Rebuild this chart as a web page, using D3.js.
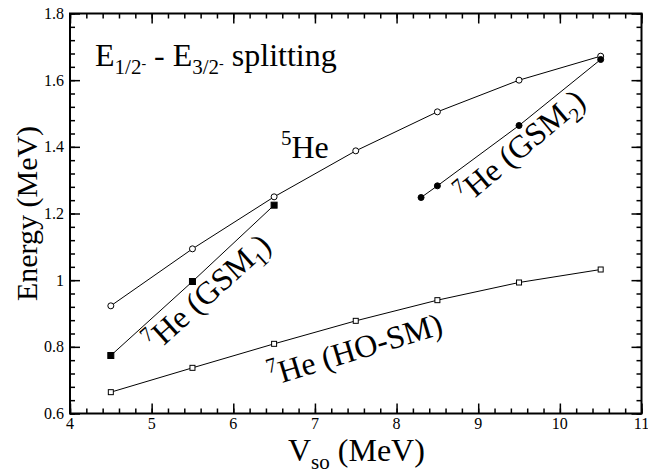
<!DOCTYPE html>
<html>
<head>
<meta charset="UTF-8">
<title>Spin-orbit splitting</title>
<script src="https://d3js.org/d3.v7.min.js"></script>
<style>
  body { margin: 0; background: #fff; }
  text { font-family: "Liberation Serif", "Times New Roman", serif; fill: #000; }
</style>
</head>
<body>
<div id="chart"></div>
<script type="text/javascript">

// data
let vso = [4.5, 5.5, 6.5, 7.5, 8.5, 9.5, 10.5];
let he5 = [0.923, 1.094, 1.25, 1.388, 1.505, 1.60, 1.672];
let hoSm = [0.664, 0.737, 0.809, 0.878, 0.94, 0.993, 1.032];
let gsm1X = [4.5, 5.5, 6.5];
let gsm1 = [0.774, 0.996, 1.225];
let gsm2X = [8.3, 8.5, 9.5, 10.5];
let gsm2 = [1.248, 1.283, 1.464, 1.662];

let xTicks = [4, 5, 6, 7, 8, 9, 10, 11];
let yTicks = [0.6, 0.8, 1.0, 1.2, 1.4, 1.6, 1.8];

let width = 648, height = 473;
let margin = {top: 13.5, right: 6.5, bottom: 59.5, left: 70};

let svg = d3.select("#chart")
            .append("svg")
            .attr("width", width)
            .attr("height", height)
            .attr("font-family", "'Liberation Serif', 'Times New Roman', serif");

let x = d3.scaleLinear().domain([4, 11]).range([margin.left, width - margin.right]);
let y = d3.scaleLinear().domain([0.6, 1.8]).range([height - margin.bottom, margin.top]);

let xMinor = d3.range(4, 11.001, 0.2);
let yMinor = d3.range(0.6, 1.8001, 0.04);

// inward ticks on all four sides
function ticks(g, axis, scale, vals, len) {
    g.call(axis(scale).tickValues(vals).tickSize(len).tickFormat(""))
     .call(s => s.select(".domain").remove())
     .selectAll("line").attr("stroke", "#000").attr("stroke-width", 1.5);
}

let yBot = height - margin.bottom, yTop = margin.top;
let xLeft = margin.left, xRight = width - margin.right;

ticks(svg.append("g").attr("transform", `translate(0,${yBot})`), d3.axisTop, x, xMinor, 5);
ticks(svg.append("g").attr("transform", `translate(0,${yBot})`), d3.axisTop, x, xTicks, 10);
ticks(svg.append("g").attr("transform", `translate(0,${yTop})`), d3.axisBottom, x, xMinor, 5);
ticks(svg.append("g").attr("transform", `translate(0,${yTop})`), d3.axisBottom, x, xTicks, 10);
ticks(svg.append("g").attr("transform", `translate(${xLeft},0)`), d3.axisRight, y, yMinor, 5);
ticks(svg.append("g").attr("transform", `translate(${xLeft},0)`), d3.axisRight, y, yTicks, 10);
ticks(svg.append("g").attr("transform", `translate(${xRight},0)`), d3.axisLeft, y, yMinor, 5);
ticks(svg.append("g").attr("transform", `translate(${xRight},0)`), d3.axisLeft, y, yTicks, 10);

svg.append("rect")
   .attr("x", xLeft).attr("y", yTop)
   .attr("width", xRight - xLeft).attr("height", yBot - yTop)
   .attr("fill", "none").attr("stroke", "#000").attr("stroke-width", 2);

// tick labels
svg.append("g").selectAll("text").data(xTicks).join("text")
   .attr("x", d => x(d)).attr("y", yBot + 15)
   .attr("text-anchor", "middle").attr("font-size", 16)
   .text(d => d);

svg.append("g").selectAll("text").data(yTicks).join("text")
   .attr("x", xLeft - 6).attr("y", d => y(d) + 5.5)
   .attr("text-anchor", "end").attr("font-size", 16)
   .text(d => d3.format("~g")(d));

// axis titles
let xt = svg.append("text").attr("x", 288).attr("y", 461).attr("font-size", 32);
xt.append("tspan").text("V");
xt.append("tspan").attr("font-size", 21).attr("dy", 8).text("so");
xt.append("tspan").attr("dy", -8).text(" (MeV)");

svg.append("text")
   .attr("transform", `translate(37,${(yTop + yBot) / 2}) rotate(-90)`)
   .attr("text-anchor", "middle").attr("font-size", 30)
   .text("Energy (MeV)");

// series
let line = d3.line().x(d => x(d[0])).y(d => y(d[1]));

function series(xs, ys, marker, filled) {
    let pts = xs.map((v, i) => [v, ys[i]]);
    svg.append("path").datum(pts)
       .attr("d", line).attr("fill", "none")
       .attr("stroke", "#000").attr("stroke-width", 1);
    let g = svg.append("g");
    if (marker == "circle") {
        g.selectAll("circle").data(pts).join("circle")
         .attr("cx", d => x(d[0])).attr("cy", d => y(d[1]))
         .attr("r", 3)
         .attr("fill", filled ? "#000" : "#fff")
         .attr("stroke", "#000").attr("stroke-width", 1);
    } else {
        let s = filled ? 6 : 5;
        g.selectAll("rect").data(pts).join("rect")
         .attr("x", d => x(d[0]) - s / 2).attr("y", d => y(d[1]) - s / 2)
         .attr("width", s).attr("height", s)
         .attr("fill", filled ? "#000" : "#fff")
         .attr("stroke", "#000").attr("stroke-width", 1);
    }
}

series(vso, he5, "circle", false);
series(vso, hoSm, "square", false);
series(gsm1X, gsm1, "square", true);
series(gsm2X, gsm2, "circle", true);

// annotations
let title = svg.append("text").attr("x", 95).attr("y", 66).attr("font-size", 32);
title.append("tspan").text("E");
title.append("tspan").attr("font-size", 21).attr("dy", 8).text("1/2");
title.append("tspan").attr("font-size", 14).attr("dy", -6).text("-");
title.append("tspan").attr("dy", -2).text(" - E");
title.append("tspan").attr("font-size", 21).attr("dy", 8).text("3/2");
title.append("tspan").attr("font-size", 14).attr("dy", -6).text("-");
title.append("tspan").attr("dy", -2).text(" splitting");

function isotope(xp, yp, angle, label, sub) {
    let t = svg.append("text")
       .attr("transform", `translate(${xp},${yp}) rotate(${angle})`)
       .attr("font-size", 32);
    t.append("tspan").attr("font-size", 21).attr("dy", -13).text("7");
    t.append("tspan").attr("dy", 13).text("He (" + label);
    if (sub) {
        t.append("tspan").attr("font-size", 21).attr("dy", 8).text(sub);
        t.append("tspan").attr("dy", -8).text(")");
    } else {
        t.append("tspan").text(")");
    }
}

let he = svg.append("text").attr("x", 281).attr("y", 158).attr("font-size", 32);
he.append("tspan").attr("font-size", 21).attr("dy", -13).text("5");
he.append("tspan").attr("dy", 13).text("He");

isotope(156, 353, -42, "GSM", "1");
isotope(467, 205, -40, "GSM", "2");
isotope(272, 386, -17, "HO-SM", null);

</script>
</body>
</html>
